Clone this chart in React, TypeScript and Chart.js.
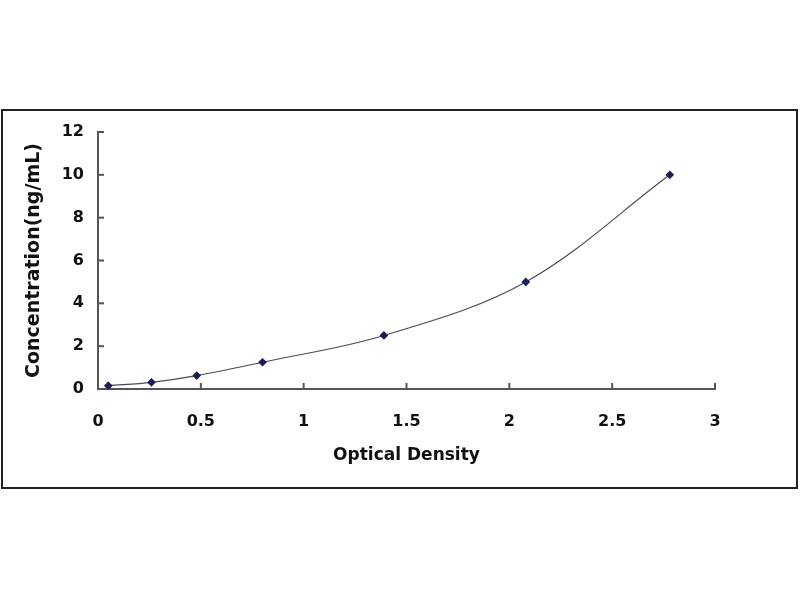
import React, { useEffect, useRef } from "react";
import { Chart, registerables } from "chart.js";

Chart.register(...registerables);

const opticalDensity = [0.05, 0.26, 0.48, 0.8, 1.39, 2.08, 2.78];
const concentration = [0.156, 0.312, 0.625, 1.25, 2.5, 5, 10];
const xTitle = "Optical Density";
const yTitle = "Concentration(ng/mL)";

const inwardTicks = {
  id: "inwardTicks",
  afterDraw(chart: any) {
    const { ctx, chartArea } = chart;
    const xs = chart.scales.x;
    const ys = chart.scales.y;
    ctx.save();
    ctx.strokeStyle = "#555";
    ctx.lineWidth = 2;
    xs.ticks.forEach((t: any) => {
      const px = xs.getPixelForValue(t.value);
      ctx.beginPath();
      ctx.moveTo(px, chartArea.bottom);
      ctx.lineTo(px, chartArea.bottom - 6);
      ctx.stroke();
    });
    ys.ticks.forEach((t: any) => {
      const py = ys.getPixelForValue(t.value);
      ctx.beginPath();
      ctx.moveTo(chartArea.left, py);
      ctx.lineTo(chartArea.left + 6, py);
      ctx.stroke();
    });
    ctx.restore();
  },
};

export default function App() {
  const ref = useRef<HTMLCanvasElement | null>(null);
  useEffect(() => {
    document.body.style.margin = "0";
    const family = "'DejaVu Sans', 'Liberation Sans', sans-serif";
    const chart = new Chart(ref.current as HTMLCanvasElement, {
      type: "scatter",
      data: {
        datasets: [
          {
            data: opticalDensity.map((x, i) => ({ x, y: concentration[i] })),
            showLine: true,
            tension: 0.35,
            borderColor: "#4a4a5a",
            borderWidth: 1.2,
            pointStyle: "rectRot",
            pointRadius: 3.5,
            pointBackgroundColor: "#1c1c5a",
            pointBorderColor: "#1c1c5a",
          },
        ],
      },
      options: {
        responsive: false,
        animation: false,
        layout: { padding: { left: 22, right: 85, top: 132, bottom: 130 } },
        plugins: { legend: { display: false }, tooltip: { enabled: false } },
        scales: {
          x: {
            type: "linear",
            min: 0,
            max: 3,
            ticks: {
              stepSize: 0.5,
              color: "#111",
              font: { family, weight: "bold", size: 16 },
              padding: 15,
              maxRotation: 0,
              callback: (v: any) => `${+v}`,
            },
            grid: { display: false },
            border: { display: true, color: "#555", width: 2 },
            title: { display: true, text: xTitle, color: "#111", font: { family, weight: "bold", size: 17 }, padding: { top: 3 } },
            afterFit: (s: any) => { s.height = 81; },
          },
          y: {
            type: "linear",
            min: 0,
            max: 12,
            ticks: { stepSize: 2, color: "#111", font: { family, weight: "bold", size: 16 }, padding: 6 },
            grid: { display: false },
            border: { display: true, color: "#555", width: 2 },
            title: { display: true, text: yTitle, color: "#111", font: { family, weight: "bold", size: 19 }, padding: { top: 1, bottom: 4 } },
            afterFit: (s: any) => { s.width = 76; },
          },
        },
      },
      plugins: [inwardTicks],
    } as any);
    return () => chart.destroy();
  }, []);
  return (
    <div style={{ position: "relative", width: 800, height: 600, background: "#fff" }}>
      <div
        style={{
          position: "absolute",
          left: 1,
          top: 109,
          width: 793,
          height: 376,
          border: "2px solid #222",
        }}
      />
      <canvas ref={ref} width={800} height={600} style={{ position: "absolute", left: 0, top: 0 }} />
    </div>
  );
}
